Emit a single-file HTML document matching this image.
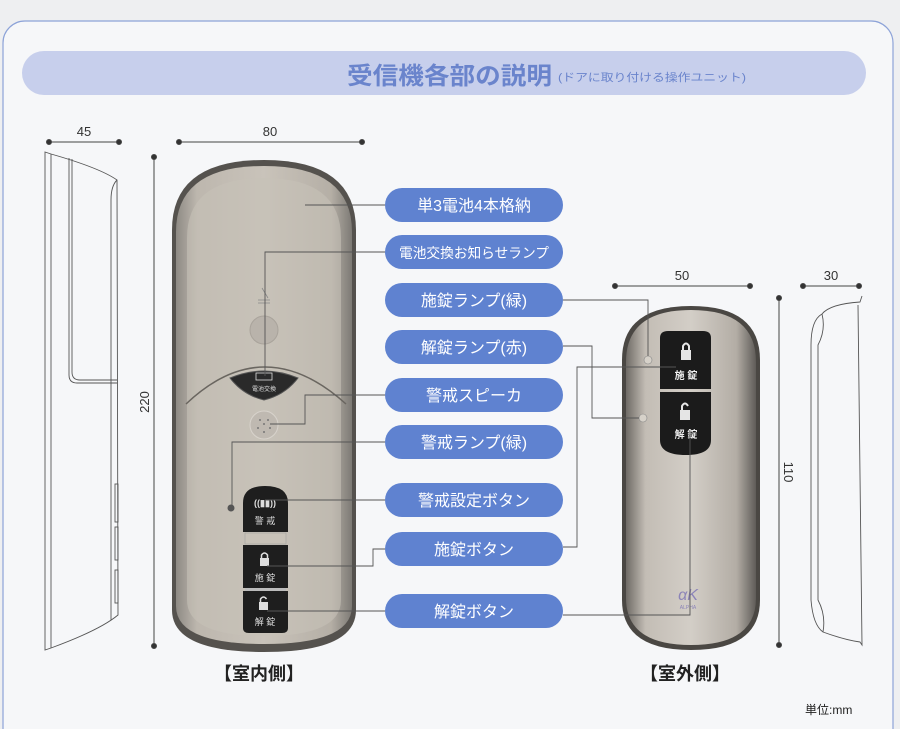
<!DOCTYPE html>
<html><head><meta charset="utf-8"><style>
html,body{margin:0;padding:0;background:#f1f2f4;}
svg{display:block;font-family:"Liberation Sans","Noto Sans CJK JP",sans-serif;}
</style></head><body>
<svg width="900" height="729" viewBox="0 0 900 729" xmlns="http://www.w3.org/2000/svg">
<defs>
<linearGradient id="silver" x1="0" x2="1" y1="0" y2="0">
<stop offset="0" stop-color="#8e8a84"/><stop offset="0.12" stop-color="#bdb7ae"/><stop offset="0.5" stop-color="#c9c3ba"/><stop offset="0.88" stop-color="#b5afa6"/><stop offset="1" stop-color="#7d7a75"/>
</linearGradient>
<linearGradient id="silver2" x1="0" x2="1" y1="0" y2="0">
<stop offset="0" stop-color="#6f6b66"/><stop offset="0.15" stop-color="#c3bdb5"/><stop offset="0.5" stop-color="#d3cec7"/><stop offset="0.85" stop-color="#b3ada5"/><stop offset="1" stop-color="#5f5c58"/>
</linearGradient>
</defs>
<rect x="0" y="0" width="900" height="729" fill="#eeeff1"/>
<rect x="3" y="21" width="890" height="730" rx="22" fill="#f6f7f9" stroke="#8da3d8" stroke-width="1.2"/>
<!-- header -->
<rect x="22" y="51" width="844" height="44" rx="22" fill="#c7cfec"/>
<text x="347" y="84" font-size="24" font-weight="bold" fill="#6a84cc" textLength="205" lengthAdjust="spacingAndGlyphs">受信機各部の説明</text>
<text x="558" y="81" font-size="11" fill="#6a84cc" textLength="188" lengthAdjust="spacingAndGlyphs">(ドアに取り付ける操作ユニット)</text>

<!-- dimensions -->
<g stroke="#444" stroke-width="1" fill="#333">
<line x1="49" y1="142" x2="119" y2="142"/><circle cx="49" cy="142" r="2.5"/><circle cx="119" cy="142" r="2.5"/>
<line x1="179" y1="142" x2="362" y2="142"/><circle cx="179" cy="142" r="2.5"/><circle cx="362" cy="142" r="2.5"/>
<line x1="154" y1="157" x2="154" y2="646"/><circle cx="154" cy="157" r="2.5"/><circle cx="154" cy="646" r="2.5"/>
<line x1="615" y1="286" x2="750" y2="286"/><circle cx="615" cy="286" r="2.5"/><circle cx="750" cy="286" r="2.5"/>
<line x1="779" y1="298" x2="779" y2="645"/><circle cx="779" cy="298" r="2.5"/><circle cx="779" cy="645" r="2.5"/>
<line x1="803" y1="286" x2="859" y2="286"/><circle cx="803" cy="286" r="2.5"/><circle cx="859" cy="286" r="2.5"/>
</g>
<g font-size="13" fill="#333" text-anchor="middle">
<text x="84" y="136">45</text>
<text x="270" y="136">80</text>
<text x="682" y="280">50</text>
<text x="831" y="280">30</text>
<text transform="translate(149,402) rotate(-90)">220</text>
<text transform="translate(784,472) rotate(90)">110</text>
</g>

<!-- left side view -->
<g fill="none" stroke="#555" stroke-width="0.9">
<path d="M45,152 L51,154 Q100,168 117,180 L118,615 Q100,630 51,648 L45,650 Z"/>
<line x1="51" y1="154" x2="51" y2="648"/>
<path d="M69,158 L69,375 Q69,383 77,383 L117,383"/>
<path d="M72,159 L72,372 Q72,380 80,380 L117,380"/>
<path d="M117,180 Q111,186 111,200 L111,620"/>
<rect x="115" y="484" width="3" height="38"/><rect x="115" y="527" width="3" height="33"/><rect x="115" y="570" width="3" height="33"/>
</g>

<!-- right side view -->
<g fill="none" stroke="#555" stroke-width="0.9">
<path d="M862,296 L860,302 Q830,304 822,314 Q811,320 811,345 L811,600 Q813,625 823,632 Q845,640 860,642 L862,645 L858,305"/>
<path d="M822,314 Q826,330 818,345 L818,600 Q826,615 823,632"/>
</g>

<!-- main device -->
<path d="M172,230 Q172,160 264,160 Q356,160 356,230 L356,610 Q356,652 264,652 Q172,652 172,610 Z" fill="#55524e"/>
<path d="M176,232 Q176,166 264,166 Q352,166 352,232 L352,606 Q352,644 264,644 Q176,644 176,606 Z" fill="url(#silver)"/>
<path d="M187,238 Q187,178 264,178 Q341,178 341,238 L341,600 Q341,636 264,636 Q187,636 187,600 Z" fill="#c7c1b8" opacity="0.6"/>
<path d="M186,404 Q264,330 346,404" fill="none" stroke="#6a6660" stroke-width="1.5"/>
<circle cx="264" cy="330" r="14" fill="#b9b3ab" stroke="#a9a39b"/>
<path d="M262,288 L268,298 M258,300 L270,300 M258,303 L270,303" stroke="#888" stroke-width="0.8" fill="none"/>
<path d="M230,378 Q264,364 298,378 Q285,395 264,400 Q243,395 230,378 Z" fill="#2a2a2a" stroke="#555"/>
<rect x="256" y="373" width="16" height="7" fill="none" stroke="#ddd" stroke-width="0.8"/>
<text x="264" y="391" font-size="6" fill="#ddd" text-anchor="middle">電池交換</text>
<circle cx="264" cy="425" r="14" fill="#bfb9b1" stroke="#d8d3cc"/>
<g fill="#777"><circle cx="260" cy="420" r="1"/><circle cx="268" cy="420" r="1"/><circle cx="264" cy="424" r="1"/><circle cx="258" cy="428" r="1"/><circle cx="270" cy="428" r="1"/><circle cx="264" cy="432" r="1"/></g>
<circle cx="231" cy="508" r="3.5" fill="#555"/>
<!-- buttons -->
<path d="M243,532 L243,503 Q243,486 265,486 Q288,486 288,503 L288,532 Z" fill="#1e1e1e"/>
<rect x="245" y="533" width="41" height="11" fill="#c8c2b8" stroke="#999" stroke-width="0.5"/>
<rect x="243" y="545" width="45" height="43" fill="#1e1e1e"/>
<rect x="245" y="588" width="41" height="3" fill="#bbb"/>
<path d="M243,591 L288,591 L288,628 Q288,633 282,633 L249,633 Q243,633 243,628 Z" fill="#1e1e1e"/>
<text x="265" y="506" font-size="9" fill="#ddd" text-anchor="middle" font-weight="bold">((▮▮))</text>
<text x="265" y="524" font-size="9" fill="#ddd" text-anchor="middle">警 戒</text>
<rect x="260" y="558" width="9" height="8" fill="#ddd"/><path d="M261.5,558 v-3 q3,-4 6,0 v3" stroke="#ddd" stroke-width="1.5" fill="none"/>
<text x="265" y="581" font-size="9" fill="#ddd" text-anchor="middle">施 錠</text>
<rect x="259" y="602" width="9" height="8" fill="#ddd"/><path d="M260.5,602 v-3 q3,-4 6,0" stroke="#ddd" stroke-width="1.5" fill="none"/>
<text x="265" y="625" font-size="9" fill="#ddd" text-anchor="middle">解 錠</text>

<!-- remote -->
<path d="M622,360 Q622,306 691,306 Q760,306 760,360 L760,600 Q760,650 691,650 Q622,650 622,600 Z" fill="#4a4743"/>
<path d="M626,362 Q626,310 691,310 Q756,310 756,362 L756,598 Q756,645 691,645 Q626,645 626,598 Z" fill="url(#silver2)"/>
<path d="M660,338 Q660,331 668,331 L703,331 Q711,331 711,338 L711,389 L660,389 Z" fill="#1b1b1b"/>
<path d="M660,392 L711,392 L711,440 Q711,455 686,455 Q660,455 660,440 Z" fill="#1b1b1b"/>
<rect x="681" y="350" width="10" height="10" fill="#e5e5e5"/><path d="M683,350 v-4 q3,-5 6,0 v4" stroke="#e5e5e5" stroke-width="2" fill="none"/>
<text x="686" y="379" font-size="10" fill="#eee" text-anchor="middle" font-weight="bold">施 錠</text>
<rect x="680" y="410" width="10" height="10" fill="#e5e5e5"/><path d="M682,410 v-4 q3,-5 6,0" stroke="#e5e5e5" stroke-width="2" fill="none"/>
<text x="686" y="438" font-size="10" fill="#eee" text-anchor="middle" font-weight="bold">解 錠</text>
<circle cx="648" cy="360" r="4" fill="#d6d1c9" stroke="#888" stroke-width="0.6"/>
<circle cx="643" cy="418" r="4" fill="#d6d1c9" stroke="#888" stroke-width="0.6"/>
<text x="688" y="600" font-size="16" fill="#8c84b8" text-anchor="middle" font-style="italic">αK</text>
<text x="688" y="609" font-size="5" fill="#8c84b8" text-anchor="middle">ALPHA</text>

<!-- connectors -->
<g fill="none" stroke="#555" stroke-width="0.9">
<path d="M385,205 H305"/>
<path d="M385,252 H265 V376"/>
<path d="M385,395 H305 V424 H270"/>
<path d="M385,442 H232 V505"/>
<path d="M385,500 H265"/>
<path d="M385,549 H373 V566 H267"/>
<path d="M385,611 H267"/>
<path d="M563,300 H648 V356"/>
<path d="M563,346 H592 V418 H639"/>
<path d="M563,547 H577 V367 H676"/>
<path d="M563,615 H690 V432"/>
</g>

<!-- pills -->
<g fill="#5f82d0">
<rect x="385" y="188" width="178" height="34" rx="17"/>
<rect x="385" y="235" width="178" height="34" rx="17"/>
<rect x="385" y="283" width="178" height="34" rx="17"/>
<rect x="385" y="330" width="178" height="34" rx="17"/>
<rect x="385" y="378" width="178" height="34" rx="17"/>
<rect x="385" y="425" width="178" height="34" rx="17"/>
<rect x="385" y="483" width="178" height="34" rx="17"/>
<rect x="385" y="532" width="178" height="34" rx="17"/>
<rect x="385" y="594" width="178" height="34" rx="17"/>
</g>
<g fill="#fff" font-size="16" text-anchor="middle">
<text x="474" y="211">単3電池4本格納</text>
<text x="474" y="258" font-size="14" textLength="150" lengthAdjust="spacingAndGlyphs">電池交換お知らせランプ</text>
<text x="474" y="306">施錠ランプ(緑)</text>
<text x="474" y="353">解錠ランプ(赤)</text>
<text x="474" y="401">警戒スピーカ</text>
<text x="474" y="448">警戒ランプ(緑)</text>
<text x="474" y="506">警戒設定ボタン</text>
<text x="474" y="555">施錠ボタン</text>
<text x="474" y="617">解錠ボタン</text>
</g>

<g font-size="18" font-weight="bold" fill="#222" text-anchor="middle">
<text x="259" y="680">【室内側】</text>
<text x="685" y="680">【室外側】</text>
</g>
<text x="805" y="714" font-size="12" fill="#222">単位:mm</text>
</svg>
</body></html>
